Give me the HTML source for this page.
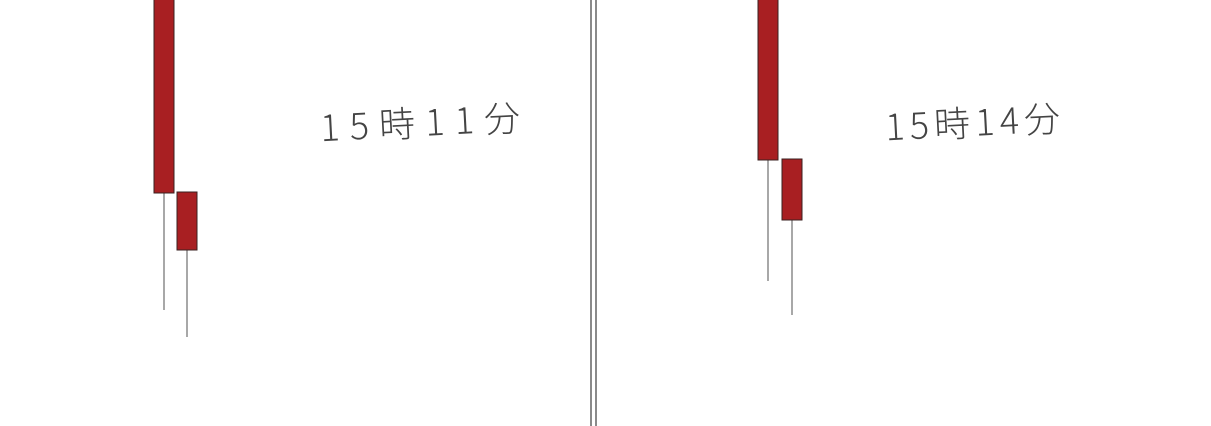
<!DOCTYPE html>
<html><head><meta charset="utf-8"><style>
html,body{margin:0;padding:0;background:#fff;}
svg{display:block;}
</style></head><body>
<svg id="chart" width="1211" height="426" viewBox="0 0 1211 426" xmlns="http://www.w3.org/2000/svg">
<rect x="0" y="0" width="1211" height="426" fill="#fff"/>
<rect x="590" y="0" width="2" height="426" fill="#8a8a8a"/>
<rect x="595" y="0" width="2" height="426" fill="#8a8a8a"/>
<text x="320" y="136" textLength="200" lengthAdjust="spacing" font-family="'Noto Sans CJK JP', sans-serif" font-weight="300" font-size="36" fill="#444" transform="rotate(-3 420 120)">15時11分</text>
<text x="885" y="136" textLength="175" lengthAdjust="spacing" font-family="'Noto Sans CJK JP', sans-serif" font-weight="300" font-size="36" fill="#444" transform="rotate(-3 970 120)">15時14分</text>
<g id="candles"></g>
</svg>
<script>
const centers = [164, 187, 768, 792];
const opens = [426, 233, 426, 266];
const closes = [233, 176, 266, 206];
const lows = [116, 89, 145, 111];
const H = 426;
function y(v){ return H - v; }
const g = document.getElementById('candles');
const NS = 'http://www.w3.org/2000/svg';
for (let i = 0; i < centers.length; i++) {
  const cx = centers[i];
  const top = y(Math.max(opens[i], closes[i]));
  const bot = y(Math.min(opens[i], closes[i]));
  const w = document.createElementNS(NS, 'line');
  
  
  w.setAttribute('x1', cx); w.setAttribute('x2', cx);
  w.setAttribute('y1', bot); w.setAttribute('y2', y(lows[i]));
  w.setAttribute('stroke', '#8a8a8a'); w.setAttribute('stroke-width', '1.5');
  g.appendChild(w);
  const r = document.createElementNS(NS, 'rect');
  
  
  r.setAttribute('x', cx - 10); r.setAttribute('width', 20);
  r.setAttribute('y', top - 1); r.setAttribute('height', bot - top + 1);
  r.setAttribute('fill', '#a81f22'); r.setAttribute('stroke', '#3a2020'); r.setAttribute('stroke-width', '1');
  g.appendChild(r);
}
</script>
</body></html>
